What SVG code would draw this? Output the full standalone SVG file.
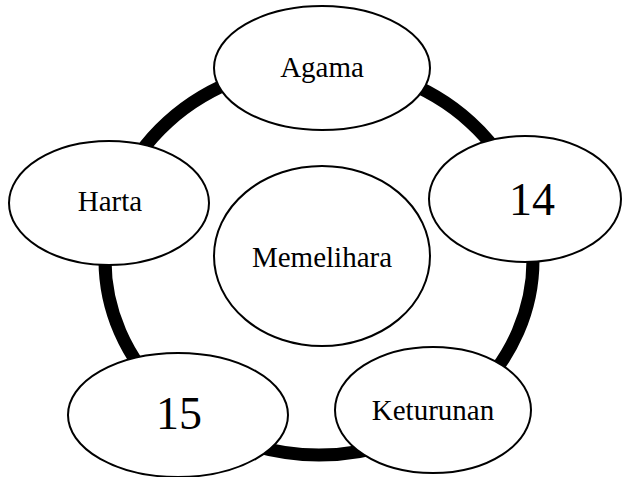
<svg xmlns="http://www.w3.org/2000/svg" width="623" height="477" viewBox="0 0 623 477">
<style>
.node{fill:#fff;stroke:#000;stroke-width:2}
.lbl{font-family:"Liberation Serif","Times New Roman",serif;font-size:29px;fill:#000;text-anchor:middle}
.big{font-size:46px}
</style>
<rect width="623" height="477" fill="#fff"/>
<g id="connectors">
<ellipse cx="319" cy="260" rx="214" ry="195" fill="none" stroke="#000" stroke-width="13"/>
</g>
<g id="agama"><ellipse class="node" cx="322" cy="68" rx="108" ry="62"/><text class="lbl" x="322" y="77">Agama</text></g>
<g id="harta"><ellipse class="node" cx="109" cy="203" rx="100" ry="62"/><text class="lbl" x="110" y="211">Harta</text></g>
<g id="memelihara"><ellipse class="node" cx="322" cy="256" rx="108" ry="90"/><text class="lbl" x="322" y="267">Memelihara</text></g>
<g id="n14"><ellipse class="node" cx="525" cy="199" rx="96" ry="63"/><text class="lbl big" x="532" y="215">14</text></g>
<g id="n15"><ellipse class="node" cx="178" cy="415" rx="110" ry="62"/><text class="lbl big" x="179" y="429">15</text></g>
<g id="keturunan"><ellipse class="node" cx="433" cy="410" rx="98" ry="63"/><text class="lbl" x="433" y="420">Keturunan</text></g>
</svg>
